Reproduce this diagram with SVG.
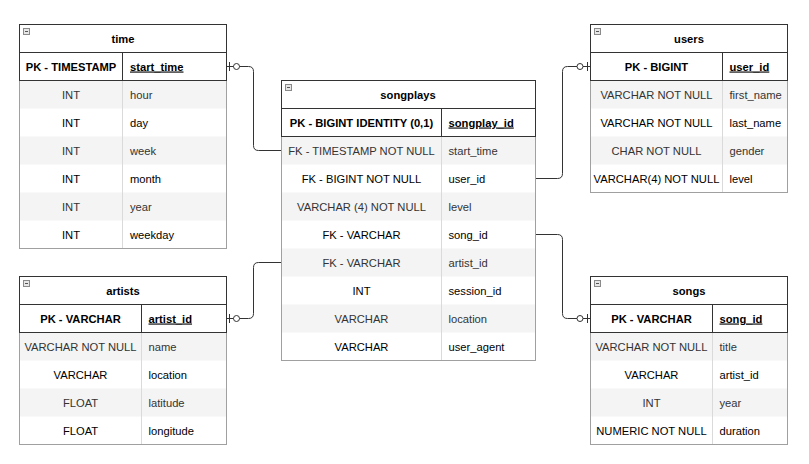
<svg xmlns="http://www.w3.org/2000/svg" width="809" height="464" viewBox="0 0 809 464">
<style>
text{font-family:"Liberation Sans",Arial,sans-serif;font-size:11.2px;fill:#000}
.t{font-weight:bold;text-anchor:middle}
.pk{font-weight:bold;text-anchor:middle}
.pkn{font-weight:bold;text-decoration:underline}
.ty{text-anchor:middle}
.g{fill:#333}
.bg{fill:#fff;stroke:none}
.alt{fill:#f4f4f4;stroke:none}
.dbord{fill:none;stroke:#a0a0a0;stroke-width:1}
.ddiv{stroke:#dadada;stroke-width:1}
.hbord{fill:none;stroke:#333;stroke-width:1}
.icon{fill:#e6e6e6;stroke:#8a8a8a;stroke-width:1}
.iconl{stroke:#555;stroke-width:1}
.conn{fill:none;stroke:#333;stroke-width:1}
.bar{stroke:#333;stroke-width:1}
.circ{fill:#fff;stroke:#333;stroke-width:1}
</style>
<rect x="0" y="0" width="809" height="464" fill="#fff"/>

<g id="connectors">
<path class="conn" d="M226.5,66.5 H248.5 Q253.5,66.5 253.5,71.5 V145.5 Q253.5,150.5 258.5,150.5 H281.5"/>
<line class="bar" x1="229.5" y1="62" x2="229.5" y2="71"/>
<circle class="circ" cx="236.5" cy="66.5" r="3"/>
<path class="conn" d="M535.5,178.5 H557.5 Q562.5,178.5 562.5,173.5 V71.5 Q562.5,66.5 567.5,66.5 H590.5"/>
<line class="bar" x1="587.5" y1="62" x2="587.5" y2="71"/>
<circle class="circ" cx="580" cy="66.5" r="3"/>
<path class="conn" d="M226.5,318.5 H248.5 Q253.5,318.5 253.5,313.5 V267.5 Q253.5,262.5 258.5,262.5 H281.5"/>
<line class="bar" x1="229.5" y1="314" x2="229.5" y2="323"/>
<circle class="circ" cx="236.5" cy="318.5" r="3"/>
<path class="conn" d="M535.5,234.5 H557.5 Q562.5,234.5 562.5,239.5 V313.5 Q562.5,318.5 567.5,318.5 H590.5"/>
<line class="bar" x1="587.5" y1="314" x2="587.5" y2="323"/>
<circle class="circ" cx="580" cy="318.5" r="3"/>
</g>

<g id="time">
<rect class="bg" x="19.5" y="24.5" width="207" height="224"/>
<rect class="alt" x="20" y="80.5" width="206" height="28"/>
<rect class="alt" x="20" y="136.5" width="206" height="28"/>
<rect class="alt" x="20" y="192.5" width="206" height="28"/>
<line class="ddiv" x1="122.5" y1="80.5" x2="122.5" y2="248.5"/>
<rect class="dbord" x="19.5" y="80.5" width="207" height="168"/>
<rect class="hbord" x="19.5" y="24.5" width="207" height="56"/>
<line class="hbord" x1="19.5" y1="52.5" x2="226.5" y2="52.5"/>
<line class="hbord" x1="122.5" y1="52.5" x2="122.5" y2="80.5"/>
<rect class="icon" x="23.5" y="28.5" width="6" height="6"/>
<line class="iconl" x1="25" y1="31.5" x2="28" y2="31.5"/>
<text class="t" x="123" y="42.5">time</text>
<text class="pk" x="71" y="70.5">PK - TIMESTAMP</text>
<text class="pkn" x="130" y="70.5">start_time</text>
<text class="ty g" x="71" y="98.5">INT</text><text class="g" x="130" y="98.5">hour</text>
<text class="ty" x="71" y="126.5">INT</text><text x="130" y="126.5">day</text>
<text class="ty g" x="71" y="154.5">INT</text><text class="g" x="130" y="154.5">week</text>
<text class="ty" x="71" y="182.5">INT</text><text x="130" y="182.5">month</text>
<text class="ty g" x="71" y="210.5">INT</text><text class="g" x="130" y="210.5">year</text>
<text class="ty" x="71" y="238.5">INT</text><text x="130" y="238.5">weekday</text>
</g>

<g id="songplays">
<rect class="bg" x="281.5" y="80.5" width="254" height="280"/>
<rect class="alt" x="282" y="136.5" width="253" height="28"/>
<rect class="alt" x="282" y="192.5" width="253" height="28"/>
<rect class="alt" x="282" y="248.5" width="253" height="28"/>
<rect class="alt" x="282" y="304.5" width="253" height="28"/>
<line class="ddiv" x1="441.5" y1="136.5" x2="441.5" y2="360.5"/>
<rect class="dbord" x="281.5" y="136.5" width="254" height="224"/>
<rect class="hbord" x="281.5" y="80.5" width="254" height="56"/>
<line class="hbord" x1="281.5" y1="108.5" x2="535.5" y2="108.5"/>
<line class="hbord" x1="441.5" y1="108.5" x2="441.5" y2="136.5"/>
<rect class="icon" x="285.5" y="84.5" width="6" height="6"/>
<line class="iconl" x1="287" y1="87.5" x2="290" y2="87.5"/>
<text class="t" x="408" y="98.5">songplays</text>
<text class="pk" x="361.5" y="126.5">PK - BIGINT IDENTITY (0,1)</text>
<text class="pkn" x="448.5" y="126.5">songplay_id</text>
<text class="ty g" x="361.5" y="154.5">FK - TIMESTAMP NOT NULL</text><text class="g" x="448.5" y="154.5">start_time</text>
<text class="ty" x="361.5" y="182.5">FK - BIGINT NOT NULL</text><text x="448.5" y="182.5">user_id</text>
<text class="ty g" x="361.5" y="210.5">VARCHAR (4) NOT NULL</text><text class="g" x="448.5" y="210.5">level</text>
<text class="ty" x="361.5" y="238.5">FK - VARCHAR</text><text x="448.5" y="238.5">song_id</text>
<text class="ty g" x="361.5" y="266.5">FK - VARCHAR</text><text class="g" x="448.5" y="266.5">artist_id</text>
<text class="ty" x="361.5" y="294.5">INT</text><text x="448.5" y="294.5">session_id</text>
<text class="ty g" x="361.5" y="322.5">VARCHAR</text><text class="g" x="448.5" y="322.5">location</text>
<text class="ty" x="361.5" y="350.5">VARCHAR</text><text x="448.5" y="350.5">user_agent</text>
</g>

<g id="users">
<rect class="bg" x="590.5" y="24.5" width="197" height="168"/>
<rect class="alt" x="591" y="80.5" width="196" height="28"/>
<rect class="alt" x="591" y="136.5" width="196" height="28"/>
<line class="ddiv" x1="722.5" y1="80.5" x2="722.5" y2="192.5"/>
<rect class="dbord" x="590.5" y="80.5" width="197" height="112"/>
<rect class="hbord" x="590.5" y="24.5" width="197" height="56"/>
<line class="hbord" x1="590.5" y1="52.5" x2="787.5" y2="52.5"/>
<line class="hbord" x1="722.5" y1="52.5" x2="722.5" y2="80.5"/>
<rect class="icon" x="594.5" y="28.5" width="6" height="6"/>
<line class="iconl" x1="596" y1="31.5" x2="599" y2="31.5"/>
<text class="t" x="689" y="42.5">users</text>
<text class="pk" x="656.5" y="70.5">PK - BIGINT</text>
<text class="pkn" x="729.5" y="70.5">user_id</text>
<text class="ty g" x="656.5" y="98.5">VARCHAR NOT NULL</text><text class="g" x="729.5" y="98.5">first_name</text>
<text class="ty" x="656.5" y="126.5">VARCHAR NOT NULL</text><text x="729.5" y="126.5">last_name</text>
<text class="ty g" x="656.5" y="154.5">CHAR NOT NULL</text><text class="g" x="729.5" y="154.5">gender</text>
<text class="ty" x="656.5" y="182.5">VARCHAR(4) NOT NULL</text><text x="729.5" y="182.5">level</text>
</g>

<g id="artists">
<rect class="bg" x="19.5" y="276.5" width="207" height="168"/>
<rect class="alt" x="20" y="332.5" width="206" height="28"/>
<rect class="alt" x="20" y="388.5" width="206" height="28"/>
<line class="ddiv" x1="141.5" y1="332.5" x2="141.5" y2="444.5"/>
<rect class="dbord" x="19.5" y="332.5" width="207" height="112"/>
<rect class="hbord" x="19.5" y="276.5" width="207" height="56"/>
<line class="hbord" x1="19.5" y1="304.5" x2="226.5" y2="304.5"/>
<line class="hbord" x1="141.5" y1="304.5" x2="141.5" y2="332.5"/>
<rect class="icon" x="23.5" y="280.5" width="6" height="6"/>
<line class="iconl" x1="25" y1="283.5" x2="28" y2="283.5"/>
<text class="t" x="123" y="294.5">artists</text>
<text class="pk" x="80.5" y="322.5">PK - VARCHAR</text>
<text class="pkn" x="148.5" y="322.5">artist_id</text>
<text class="ty g" x="80.5" y="350.5">VARCHAR NOT NULL</text><text class="g" x="148.5" y="350.5">name</text>
<text class="ty" x="80.5" y="378.5">VARCHAR</text><text x="148.5" y="378.5">location</text>
<text class="ty g" x="80.5" y="406.5">FLOAT</text><text class="g" x="148.5" y="406.5">latitude</text>
<text class="ty" x="80.5" y="434.5">FLOAT</text><text x="148.5" y="434.5">longitude</text>
</g>

<g id="songs">
<rect class="bg" x="590.5" y="276.5" width="197" height="168"/>
<rect class="alt" x="591" y="332.5" width="196" height="28"/>
<rect class="alt" x="591" y="388.5" width="196" height="28"/>
<line class="ddiv" x1="712.5" y1="332.5" x2="712.5" y2="444.5"/>
<rect class="dbord" x="590.5" y="332.5" width="197" height="112"/>
<rect class="hbord" x="590.5" y="276.5" width="197" height="56"/>
<line class="hbord" x1="590.5" y1="304.5" x2="787.5" y2="304.5"/>
<line class="hbord" x1="712.5" y1="304.5" x2="712.5" y2="332.5"/>
<rect class="icon" x="594.5" y="280.5" width="6" height="6"/>
<line class="iconl" x1="596" y1="283.5" x2="599" y2="283.5"/>
<text class="t" x="689" y="294.5">songs</text>
<text class="pk" x="651.5" y="322.5">PK - VARCHAR</text>
<text class="pkn" x="719.5" y="322.5">song_id</text>
<text class="ty g" x="651.5" y="350.5">VARCHAR NOT NULL</text><text class="g" x="719.5" y="350.5">title</text>
<text class="ty" x="651.5" y="378.5">VARCHAR</text><text x="719.5" y="378.5">artist_id</text>
<text class="ty g" x="651.5" y="406.5">INT</text><text class="g" x="719.5" y="406.5">year</text>
<text class="ty" x="651.5" y="434.5">NUMERIC NOT NULL</text><text x="719.5" y="434.5">duration</text>
</g>
</svg>
